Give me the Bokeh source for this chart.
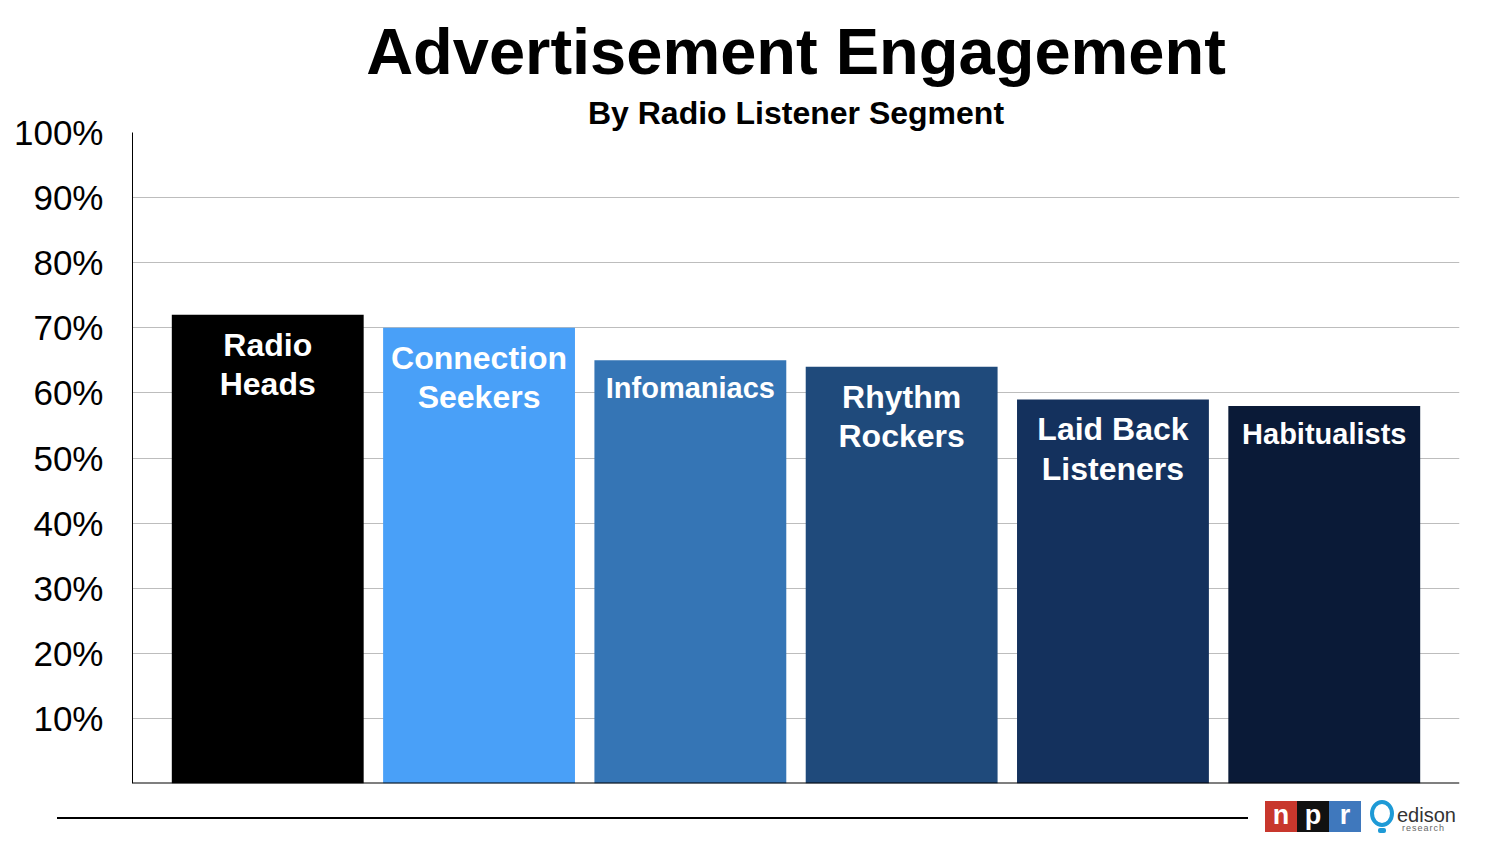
from bokeh.plotting import figure
from bokeh.models import (ColumnDataSource, FactorRange, Range1d, FixedTicker, Title,
                          Span, Div)
from bokeh.layouts import column
from bokeh.core.properties import value
from bokeh.embed import file_html
from bokeh.resources import INLINE

# ---- data ----
categories = ["Radio Heads", "Connection Seekers", "Infomaniacs",
              "Rhythm Rockers", "Laid Back Listeners", "Habitualists"]
bar_labels = ["Radio\nHeads", "Connection\nSeekers", "Infomaniacs",
              "Rhythm\nRockers", "Laid Back\nListeners", "Habitualists"]
engagement = [72, 70, 65, 64, 59, 58]
bar_colors = ["#000000", "#49a0f8", "#3575b5", "#1f4a7b", "#14315d", "#0a1a37"]
tick_values = [10, 20, 30, 40, 50, 60, 70, 80, 90, 100]
tick_labels = ["10%", "20%", "30%", "40%", "50%", "60%", "70%", "80%", "90%", "100%"]
npr_letters = ["n", "p", "r"]
npr_colors = ["#c8372d", "#111111", "#3f78bd"]

FONT = "Liberation Sans"

label_sizes = ["32px" if "\n" in t else "29px" for t in bar_labels]
src = ColumnDataSource(dict(cat=categories, val=engagement, lab=bar_labels,
                            col=bar_colors, fs=label_sizes))

p = figure(width=1496, height=800, output_backend="svg", toolbar_location=None,
           x_range=FactorRange(factors=categories, range_padding=0.28 / 6),
           y_range=Range1d(0, 100),
           min_border_left=132, min_border_right=37, min_border_top=132,
           min_border_bottom=17)
p.outline_line_color = None

p.add_layout(Title(text="By Radio Listener Segment", align="center",
                   text_font=FONT, text_font_size="32px", text_font_style="bold",
                   text_color="black", standoff=4), "above")
p.add_layout(Title(text="Advertisement Engagement", align="center",
                   text_font=FONT, text_font_size="65px", text_font_style="bold",
                   text_color="black", standoff=6), "above")

p.vbar(x="cat", top="val", width=0.908, bottom=0, fill_color="col",
       line_color=None, source=src)

p.text(x="cat", y="val", text="lab", source=src, text_align="center",
       text_baseline="top", y_offset=12, text_color="white",
       text_font=value(FONT), text_font_style="bold", text_font_size="fs",
       text_line_height=1.09)

p.yaxis.ticker = FixedTicker(ticks=tick_values)
p.yaxis.major_label_overrides = {v: l for v, l in zip(tick_values, tick_labels)}
p.yaxis.major_label_text_font = FONT
p.yaxis.major_label_text_font_size = "35px"
p.yaxis.major_label_text_color = "black"
p.yaxis.major_tick_line_color = None
p.yaxis.major_tick_out = 0
p.yaxis.major_tick_in = 0
p.yaxis.minor_tick_line_color = None
p.yaxis.major_label_standoff = 29
p.yaxis.axis_line_color = "black"

p.xaxis.visible = False
p.add_layout(Span(location=0, dimension="width", line_color="black", line_width=2))

p.xgrid.grid_line_color = None
p.ygrid.ticker = FixedTicker(ticks=tick_values)
p.ygrid.grid_line_color = "#bdbdbd"

# ---- footer: rule and logos ----
npr_html = "".join(
    f'<div style="position:absolute;left:{1265 + 32 * i}px;top:1px;width:32px;height:31px;'
    f'background:{c};color:#fff;font:bold 27px \'{FONT}\',sans-serif;line-height:29px;'
    f'text-align:center;">{t}</div>'
    for i, (t, c) in enumerate(zip(npr_letters, npr_colors)))
footer_html = (
    f'<div style="position:relative;width:1496px;height:58px;font-family:\'{FONT}\',sans-serif;">'
    '<div style="position:absolute;left:57px;top:17px;width:1191px;height:2px;background:#000;"></div>'
    + npr_html +
    '<div style="position:absolute;left:1370px;top:0px;width:24px;height:27px;box-sizing:border-box;'
    'border:4px solid #1e9ad6;border-radius:50%;"></div>'
    '<div style="position:absolute;left:1378px;top:28px;width:8px;height:5px;background:#1e9ad6;'
    'border-radius:2px;"></div>'
    '<div style="position:absolute;left:1397px;top:4px;font-size:20px;line-height:22px;color:#333;">edison</div>'
    '<div style="position:absolute;left:1402px;top:23px;font-size:9px;line-height:10px;color:#666;'
    'letter-spacing:1px;">research</div>'
    '</div>')
footer = Div(text=footer_html, width=1496, height=58, margin=0)

layout = column(p, footer, spacing=0)

open("out.html", "w").write(file_html(layout, INLINE))
